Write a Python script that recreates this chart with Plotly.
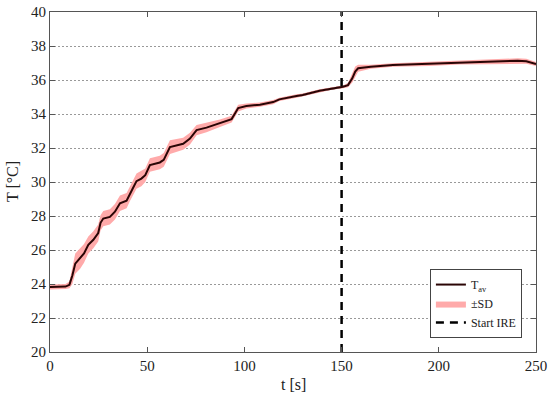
import plotly.graph_objects as go

# time [s] and mean temperature [°C]
t_s = [0, 4, 8, 10, 11.5, 13, 15.5, 17.5, 19.7, 22.3, 24.8, 26, 27.4, 30.8,
       33.4, 36, 39.4, 41, 42.5, 44.5, 47, 49, 51.4, 56.5, 58.5, 61.7, 68.5,
       72, 75.4, 80.5, 87.4, 93.4, 95, 96.8, 101, 108, 114.8, 118, 126.8, 130,
       138.7, 145, 150.7, 153.3, 155.5, 157, 158.5, 165, 176.4, 195, 210.7,
       225, 240.6, 245, 250]
t_av = [23.82, 23.82, 23.85, 23.95, 24.5, 25.2, 25.5, 25.8, 26.3, 26.6, 27.0,
        27.6, 27.85, 27.95, 28.25, 28.75, 28.9, 29.3, 29.6, 30.05, 30.2, 30.4,
        31.0, 31.15, 31.3, 32.05, 32.25, 32.55, 33.05, 33.2, 33.45, 33.7, 34.0,
        34.35, 34.47, 34.55, 34.7, 34.86, 35.06, 35.12, 35.37, 35.5, 35.6,
        35.7, 36.1, 36.5, 36.69, 36.78, 36.88, 36.95, 37.04, 37.08, 37.13,
        37.1, 36.94]
sd = [0.15, 0.15, 0.15, 0.2, 0.5, 0.6, 0.6, 0.55, 0.5, 0.5, 0.5, 0.45,
      0.45, 0.45, 0.45, 0.45, 0.45, 0.45, 0.45, 0.45, 0.45, 0.4, 0.4, 0.4,
      0.4, 0.4, 0.35, 0.35, 0.3, 0.28, 0.22, 0.2, 0.2, 0.2, 0.15, 0.13, 0.12,
      0.1, 0.1, 0.08, 0.08, 0.08, 0.08, 0.12, 0.25, 0.3, 0.2, 0.12, 0.1,
      0.12, 0.13, 0.15, 0.15, 0.15, 0.12]
ire_start = 150

upper = [m + s for m, s in zip(t_av, sd)]
lower = [m - s for m, s in zip(t_av, sd)]

FONT = "Liberation Serif"

fig = go.Figure()
fig.add_trace(go.Scatter(x=t_s, y=t_av, mode="lines",
                         line=dict(color="#2a0505", width=2),
                         name="T<sub>av</sub>"))
fig.add_trace(go.Scatter(x=t_s, y=lower, mode="lines", line=dict(width=0),
                         showlegend=False, hoverinfo="skip"))
fig.add_trace(go.Scatter(x=t_s, y=upper, mode="lines", line=dict(width=0),
                         fill="tonexty", fillcolor="#ffaaaa", name="±SD"))
fig.add_trace(go.Scatter(x=[ire_start, ire_start], y=[20, 40], mode="lines",
                         line=dict(color="black", width=2.5, dash="8px,6px"),
                         name="Start IRE"))
# redraw the mean line on top of the band
fig.add_trace(go.Scatter(x=t_s, y=t_av, mode="lines",
                         line=dict(color="#2a0505", width=2),
                         showlegend=False, hoverinfo="skip"))

fig.update_layout(
    width=550, height=404,
    margin=dict(l=50, r=14, t=12, b=52),
    plot_bgcolor="white", paper_bgcolor="white",
    font=dict(family=FONT, size=15, color="#222"),
    legend=dict(x=0.971, y=0.041, xanchor="right", yanchor="bottom",
                bordercolor="#444", borderwidth=1, bgcolor="white",
                font=dict(size=12), traceorder="normal", tracegroupgap=0),
    showlegend=True,
    annotations=[
        dict(text="T [°C]", xref="paper", yref="paper", x=-0.078, y=0.5,
             xanchor="center", yanchor="middle", textangle=-90,
             showarrow=False, font=dict(size=16)),
        dict(text="t [s]", xref="paper", yref="paper", x=0.5, y=-0.097,
             xanchor="center", yanchor="middle", showarrow=False,
             font=dict(size=16)),
    ],
)
fig.update_xaxes(range=[0, 250], tickvals=[0, 50, 100, 150, 200, 250],
                 ticks="inside", ticklen=5, tickcolor="#555", showgrid=False,
                 showline=True, linecolor="#555", mirror="ticks",
                 zeroline=False, automargin=False)
fig.update_yaxes(range=[20, 40], dtick=2, ticks="inside", ticklen=5,
                 tickcolor="#555", showgrid=True, gridcolor="#999",
                 griddash="2px,2px", gridwidth=1, showline=True,
                 linecolor="#555", mirror="ticks", zeroline=False,
                 automargin=False)

# drop the default 8px page margin so the figure fills the window
fig.write_html("out.html", config={"displayModeBar": False},
               post_script="document.body.style.margin='0px';"
                           "document.body.style.overflow='hidden';")
